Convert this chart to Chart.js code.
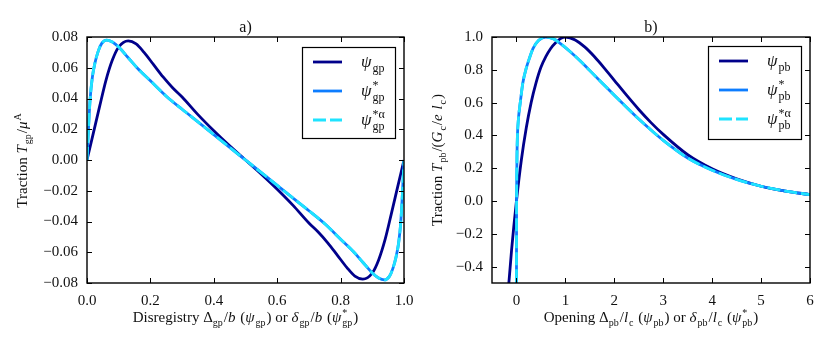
<!DOCTYPE html>
<html><head><meta charset="utf-8">
<script src="https://cdn.jsdelivr.net/npm/chart.js@4.4.0/dist/chart.umd.min.js"></script>
<style>
html,body{margin:0;padding:0;background:#fff;}
#wrap{position:relative;width:830px;height:346px;}
canvas{position:absolute;top:0;}
</style></head>
<body><div id="wrap"><canvas id="c1" width="415" height="346" style="left:0"></canvas><canvas id="c2" width="415" height="346" style="left:415px"></canvas></div>
<script>
// ---------- data ----------
const gpX = [0, 0.02, 0.04, 0.06, 0.08, 0.10, 0.13, 0.155, 0.18, 0.21, 0.24, 0.27, 0.30, 0.35, 0.40, 0.45, 0.50, 0.55, 0.60, 0.65, 0.70, 0.73, 0.76, 0.79, 0.82, 0.845, 0.87, 0.90, 0.92, 0.94, 0.96, 0.98, 1.0];
const gpY = [0, 0.0175, 0.035, 0.052, 0.065, 0.0735, 0.0775, 0.0755, 0.070, 0.062, 0.054, 0.047, 0.041, 0.0295, 0.019, 0.0092, 0, -0.0092, -0.019, -0.0295, -0.041, -0.047, -0.054, -0.062, -0.070, -0.0755, -0.0775, -0.0735, -0.065, -0.052, -0.035, -0.0175, 0];
const gpStarX = [0, 0.005, 0.01, 0.017, 0.025, 0.035, 0.046, 0.062, 0.08, 0.10, 0.13, 0.16, 0.20, 0.25, 0.30, 0.35, 0.40, 0.45, 0.50, 0.55, 0.60, 0.65, 0.70, 0.75, 0.80, 0.84, 0.87, 0.90, 0.92, 0.938, 0.954, 0.965, 0.975, 0.983, 0.99, 0.995, 1.0];
const gpStarY = [0, 0.022, 0.040, 0.054, 0.063, 0.0705, 0.0757, 0.078, 0.0768, 0.0735, 0.0665, 0.0595, 0.0515, 0.0415, 0.0330, 0.0248, 0.0165, 0.0082, 0, -0.0082, -0.0165, -0.0248, -0.0330, -0.0415, -0.0515, -0.0595, -0.0665, -0.0735, -0.0768, -0.078, -0.0757, -0.0705, -0.063, -0.054, -0.040, -0.022, 0];
const pbX = [-0.2, -0.1, 0, 0.1, 0.2, 0.3, 0.4, 0.5, 0.6, 0.7, 0.8, 0.9, 1.0, 1.2, 1.4, 1.6, 1.8, 2.0, 2.25, 2.5, 2.75, 3.0, 3.5, 4.0, 4.5, 5.0, 5.5, 6.0];
const pbY = [-0.664, -0.300, 0, 0.25, 0.445, 0.60, 0.72, 0.815, 0.88, 0.93, 0.965, 0.99, 1.0, 0.982, 0.938, 0.878, 0.809, 0.736, 0.645, 0.558, 0.478, 0.406, 0.282, 0.196, 0.135, 0.090, 0.060, 0.039];
const pbStarX = [0, 0.002, 0.006, 0.012, 0.02, 0.04, 0.08, 0.13, 0.2, 0.27, 0.34, 0.45, 0.6, 0.75, 0.9, 1.1, 1.3, 1.5, 1.75, 2.0, 2.25, 2.5, 2.75, 3.0, 3.5, 4.0, 4.5, 5.0, 5.5, 6.0];
const pbStarY = [-0.6, -0.1, 0.15, 0.3, 0.40, 0.50, 0.605, 0.72, 0.81, 0.875, 0.93, 0.978, 1.0, 0.99, 0.96, 0.91, 0.855, 0.795, 0.72, 0.645, 0.572, 0.50, 0.433, 0.37, 0.262, 0.188, 0.132, 0.09, 0.06, 0.039];

const gpXTicks = [0, 0.2, 0.4, 0.6, 0.8, 1.0];
const gpYTicks = [-0.08, -0.06, -0.04, -0.02, 0, 0.02, 0.04, 0.06, 0.08];
const pbXTicks = [0, 1, 2, 3, 4, 5, 6];
const pbYTicks = [-0.4, -0.2, 0, 0.2, 0.4, 0.6, 0.8, 1.0];

// ---------- styling ----------
const SERIF = "'Liberation Serif', 'DejaVu Serif', serif";
const C_DARK = '#00008b', C_BLUE = '#0d7dff', C_CYAN = '#1fe3ff';
Chart.defaults.font.family = SERIF;
Chart.defaults.font.size = 15;
Chart.defaults.color = '#111';

const pts = (xs, ys) => xs.map((x, i) => ({x, y: ys[i]}));
const minus = s => s.replace('-', '\u2212');

// rich text: strings are roman; {i}, {sub}, {sup}, {ss:[sup,sub]}
function font(size, it){ return (it ? 'italic ' : '') + size + 'px ' + SERIF; }
function richWidth(ctx, parts, size){
  let w = 0;
  for (const p of parts) w += partWidth(ctx, p, size);
  return w;
}
function partWidth(ctx, p, size){
  const s2 = Math.round(size*0.68);
  if (typeof p === 'string'){ ctx.font = font(size,false); return ctx.measureText(p).width; }
  if (p.i !== undefined){ ctx.font = font(size,true); return ctx.measureText(p.i).width + 1; }
  if (p.sub !== undefined){ ctx.font = font(s2,false); return ctx.measureText(p.sub).width + 1; }
  if (p.sup !== undefined){ ctx.font = font(s2,false); return ctx.measureText(p.sup).width + 1; }
  if (p.ss){ ctx.font = font(s2,false); return Math.max(ctx.measureText(p.ss[0]).width, ctx.measureText(p.ss[1]).width) + 1; }
  return 0;
}
function drawRich(ctx, parts, x, y, size, align){
  const w = richWidth(ctx, parts, size);
  let cx = align === 'left' ? x : x - w/2;
  const s2 = Math.round(size*0.68);
  ctx.textAlign = 'left'; ctx.textBaseline = 'alphabetic'; ctx.fillStyle = '#111';
  for (const p of parts){
    const pw = partWidth(ctx, p, size);
    if (typeof p === 'string'){ ctx.font = font(size,false); ctx.fillText(p, cx, y); }
    else if (p.i !== undefined){ ctx.font = font(size,true); ctx.fillText(p.i, cx, y); }
    else if (p.sub !== undefined){ ctx.font = font(s2,false); ctx.fillText(p.sub, cx, y + size*0.28); }
    else if (p.sup !== undefined){ ctx.font = font(s2,false); ctx.fillText(p.sup, cx, y - size*0.42); }
    else if (p.ss){ ctx.font = font(s2,false); ctx.fillText(p.ss[0], cx, y - size*0.42); ctx.fillText(p.ss[1], cx, y + size*0.28); }
    cx += pw;
  }
}

const framePlugin = {
  id: 'frame',
  afterDraw(chart, args, o){
    const {ctx, chartArea: a, scales} = chart;
    ctx.save();
    ctx.strokeStyle = '#000'; ctx.lineWidth = 1;
    const L = 5;
    const seg = (x1,y1,x2,y2)=>{ctx.beginPath();ctx.moveTo(x1,y1);ctx.lineTo(x2,y2);ctx.stroke();};
    scales.x.ticks.forEach(t=>{ const p = Math.round(scales.x.getPixelForValue(t.value))+0.5; seg(p,a.bottom,p,a.bottom-L); seg(p,a.top,p,a.top+L); });
    scales.y.ticks.forEach(t=>{ const p = Math.round(scales.y.getPixelForValue(t.value))+0.5; seg(a.left,p,a.left+L,p); seg(a.right,p,a.right-L,p); });
    ctx.lineWidth = 1.4;
    ctx.strokeRect(a.left, a.top, a.right-a.left, a.bottom-a.top);
    // legend
    const lg = o.legend;
    const bx = a.right - lg.dx - lg.w, by = a.top + lg.dy;
    ctx.fillStyle = '#fff'; ctx.fillRect(bx, by, lg.w, lg.h);
    ctx.lineWidth = 1.2; ctx.strokeStyle = '#000'; ctx.strokeRect(bx+0.5, by+0.5, lg.w, lg.h);
    chart.data.datasets.forEach((ds, i)=>{
      const ry = by + 15 + i*29;
      ctx.save();
      ctx.strokeStyle = ds.borderColor; ctx.lineWidth = ds.borderWidth; ctx.setLineDash(ds.borderDash || []);
      seg(bx+11, ry, bx+40, ry);
      ctx.restore();
      drawRich(ctx, o.labels[i], bx+59, ry+5, 17, 'left');
    });
    // titles
    ctx.font = font(16,false); ctx.fillStyle = '#111'; ctx.textAlign='center';
    ctx.fillText(o.title, (a.left+a.right)/2, 32);
    drawRich(ctx, o.xTitle, (a.left+a.right)/2, 322, 15, 'center');
    ctx.save();
    ctx.translate(o.yTitleX, (a.top+a.bottom)/2);
    ctx.rotate(-Math.PI/2);
    drawRich(ctx, o.yTitle, 0, 0, 15, 'center');
    ctx.restore();
    ctx.restore();
  }
};

function makeChart(id, d, cfg){
  return new Chart(document.getElementById(id), {
    type: 'line',
    data: { datasets: [
      { data: pts(d.x1, d.y1), borderColor: C_DARK, borderWidth: 2.8, order: 2 },
      { data: pts(d.x2, d.y2), borderColor: C_BLUE, borderWidth: 2.8, order: 1 },
      { data: pts(d.x2, d.y2), borderColor: C_CYAN, borderWidth: 2.8, borderDash: [13,4], order: 0 }
    ]},
    options: {
      responsive: false, animation: false,
      layout: { padding: { left: 0, right: cfg.padRight, top: 37, bottom: 0 } },
      elements: { point: { radius: 0 }, line: { cubicInterpolationMode: 'monotone', fill: false } },
      plugins: { legend: { display: false }, tooltip: { enabled: false }, frame: cfg.frame },
      scales: {
        x: { type: 'linear', min: cfg.xmin, max: cfg.xmax,
             afterBuildTicks: s => { s.ticks = cfg.xTicks.map(v => ({value: v})); },
             afterFit: s => { s.height = 63; s.paddingLeft = 0; s.paddingRight = 0; },
             grid: { display: false, drawTicks: false }, border: { display: false },
             ticks: { padding: 9, callback: cfg.xFmt, maxRotation: 0, autoSkip: false } },
        y: { type: 'linear', min: cfg.ymin, max: cfg.ymax,
             afterBuildTicks: s => { s.ticks = cfg.yTicks.map(v => ({value: v})); },
             afterFit: s => { s.width = cfg.yWidth; s.paddingTop = 0; s.paddingBottom = 0; },
             grid: { display: false, drawTicks: false }, border: { display: false },
             ticks: { padding: 9, callback: cfg.yFmt, autoSkip: false } }
      }
    },
    plugins: [framePlugin]
  });
}

makeChart('c1', {x1: gpX, y1: gpY, x2: gpStarX, y2: gpStarY}, {
  xmin: 0, xmax: 1, ymin: -0.08, ymax: 0.08, xTicks: gpXTicks, yTicks: gpYTicks,
  xFmt: v => v.toFixed(1), yFmt: v => minus(v.toFixed(2)), yWidth: 87, padRight: 11,
  frame: {
    title: 'a)', yTitleX: 27,
    legend: { dx: 9, dy: 10, w: 93, h: 91 },
    labels: [
      [{i:'ψ'}, {sub:'gp'}],
      [{i:'ψ'}, {ss:['*','gp']}],
      [{i:'ψ'}, {ss:['*α','gp']}]
    ],
    xTitle: ['Disregistry Δ', {sub:'gp'}, '/', {i:'b'}, ' (', {i:'ψ'}, {sub:'gp'}, ') or ', {i:'δ'}, {sub:'gp'}, '/', {i:'b'}, ' (', {i:'ψ'}, {ss:['*','gp']}, ')'],
    yTitle: ['Traction ', {i:'T'}, {sub:'gp'}, '/', {i:'μ'}, {sup:'A'}]
  }
});

makeChart('c2', {x1: pbX, y1: pbY, x2: pbStarX, y2: pbStarY}, {
  xmin: -0.5, xmax: 6, ymin: -0.5, ymax: 1.0, xTicks: pbXTicks, yTicks: pbYTicks,
  xFmt: v => String(v), yFmt: v => minus(v.toFixed(1)), yWidth: 77, padRight: 20,
  frame: {
    title: 'b)', yTitleX: 27,
    legend: { dx: 9, dy: 9, w: 93, h: 93 },
    labels: [
      [{i:'ψ'}, {sub:'pb'}],
      [{i:'ψ'}, {ss:['*','pb']}],
      [{i:'ψ'}, {ss:['*α','pb']}]
    ],
    xTitle: ['Opening Δ', {sub:'pb'}, '/', {i:'l'}, {sub:'c'}, ' (', {i:'ψ'}, {sub:'pb'}, ') or ', {i:'δ'}, {sub:'pb'}, '/', {i:'l'}, {sub:'c'}, ' (', {i:'ψ'}, {ss:['*','pb']}, ')'],
    yTitle: ['Traction ', {i:'T'}, {sub:'pb'}, '/(', {i:'G'}, {sub:'c'}, '/', {i:'e'}, ' ', {i:'l'}, {sub:'c'}, ')']
  }
});
</script></body></html>
